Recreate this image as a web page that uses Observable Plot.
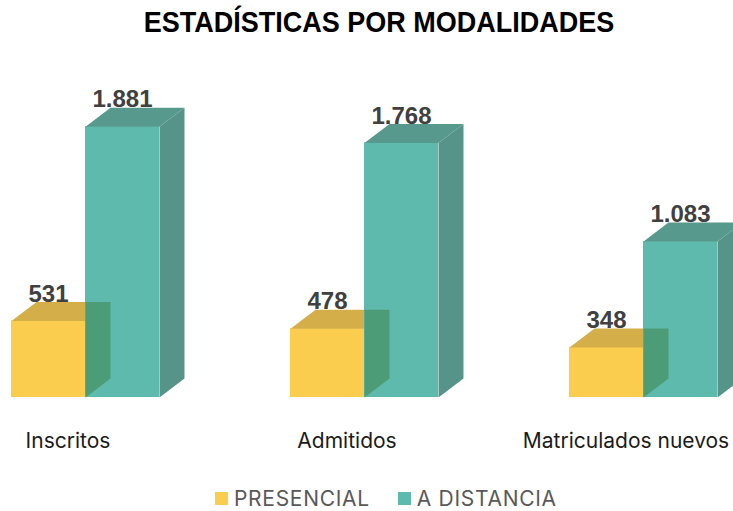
<!DOCTYPE html>
<html>
<head>
<meta charset="utf-8">
<script src="https://cdn.jsdelivr.net/npm/d3@7"></script>
<script src="https://cdn.jsdelivr.net/npm/@observablehq/plot@0.6"></script>
<style>
  html, body { margin: 0; padding: 0; background: #fff; overflow: hidden; width: 733px; height: 511px; }
  #title { position: absolute; top: 9px; left: 25px; width: 708px; text-align: center;
    font-family: "Liberation Sans Narrow", "Arial Narrow", "Liberation Sans", Arial, sans-serif;
    font-weight: bold; font-size: 27px; line-height: 27px; color: #000; transform: scaleY(1.08); }
  #chart { position: absolute; top: 50px; left: 0; width: 733px; height: 420px; overflow: hidden; }
  #legend { position: absolute; top: 488px; left: 215px; display: flex; align-items: center;
    font-family: Inter, "Liberation Sans", sans-serif; font-size: 21px; line-height: 21px; color: #595959; letter-spacing: 0.7px; }
  #legend .item { display: flex; align-items: center; margin-right: 28px; }
  #legend .sw { width: 13px; height: 13px; margin-right: 6px; }
  #chart text.cat { letter-spacing: 0.5px; }
</style>
</head>
<body>
<div id="title">ESTADÍSTICAS POR MODALIDADES</div>
<div id="chart"></div>
<div id="legend"></div>
<script>
const categories = ["Inscritos", "Admitidos", "Matriculados nuevos"];
const seriesNames = ["PRESENCIAL", "A DISTANCIA"];
const presencial = [531, 478, 348];
const distancia = [1881, 1768, 1083];

const colors = {
  PRESENCIAL: { front: "#FACD4F", top: "#D4AE49" },
  "A DISTANCIA": { front: "#5DBAAC", top: "#58998E", side: "#56948A" },
  overlap: "#4C9C77"
};

const fmt = d3.formatLocale({ decimal: ",", thousands: ".", grouping: [3], currency: ["", ""] }).format(",");

// geometry (in scale units)
const W = 0.2652;        // bar width in x units
const DX = 0.0896;       // depth in x units
const yMax = 2000, plotH = 288;
const DYV = yMax / plotH * 19; // depth in y value units

const bars = [];
categories.forEach((c, i) => {
  [presencial[i], distancia[i]].forEach((v, s) => {
    const x1 = s === 0 ? i - W : i;
    bars.push({ cat: c, i, series: seriesNames[s], s, v, x1, x2: x1 + W });
  });
});

function poly(b, pts, kind) {
  return pts.map(([x, y]) => ({ id: kind + b.cat + b.series, x, y }));
}
const topFace = b => poly(b, [[b.x1, b.v], [b.x2, b.v], [b.x2 + DX, b.v + DYV], [b.x1 + DX, b.v + DYV]], "top");
const sideFace = b => poly(b, [[b.x2, 0], [b.x2, b.v], [b.x2 + DX, b.v + DYV], [b.x2 + DX, DYV]], "side");
const overlapFace = b => poly(b, [[b.x2, 0], [b.x2, b.v + DYV], [b.x2 + DX, b.v + DYV], [b.x2 + DX, DYV]], "ov");

const yel = bars.filter(b => b.s === 0);
const tea = bars.filter(b => b.s === 1);

const polyMark = (data, fill) => Plot.line(data, { x: "x", y: "y", z: "id", fill, stroke: "none", curve: "linear-closed" });

const chart = Plot.plot({
  width: 733,
  height: 420,
  marginLeft: 0, marginRight: 0, marginTop: 59, marginBottom: 73,
  x: { domain: [-85 / 279, 648 / 279], axis: null },
  y: { domain: [0, yMax], axis: null },
  style: { overflow: "hidden", background: "transparent" },
  marks: [
    Plot.rect(yel, { x1: "x1", x2: "x2", y1: 0, y2: "v", fill: colors.PRESENCIAL.front }),
    polyMark(yel.flatMap(topFace), colors.PRESENCIAL.top),
    Plot.rect(tea, { x1: "x1", x2: "x2", y1: 0, y2: "v", fill: colors["A DISTANCIA"].front }),
    polyMark(tea.flatMap(topFace), colors["A DISTANCIA"].top),
    polyMark(tea.flatMap(sideFace), colors["A DISTANCIA"].side),
    polyMark(yel.flatMap(overlapFace), colors.overlap),
    Plot.text(bars, {
      x: b => (b.x1 + b.x2) / 2, y: "v", text: b => fmt(b.v), dy: -27,
      fontSize: 24, fontWeight: "bold", fill: "#404040",
      fontFamily: "'Liberation Sans', Arial, sans-serif"
    }),
    Plot.text(categories, {
      x: (d, i) => i, y: () => 0, text: d => d, dy: 44, dx: -17.5,
      fontSize: 21, fill: "#1b1b1b", fontFamily: "Inter, 'Liberation Sans', sans-serif",
      className: "cat"
    })
  ]
});
document.getElementById("chart").appendChild(chart);

const legend = document.getElementById("legend");
seriesNames.forEach(name => {
  const item = document.createElement("div");
  item.className = "item";
  const sw = document.createElement("div");
  sw.className = "sw";
  sw.style.background = colors[name].front;
  const t = document.createElement("span");
  t.textContent = name;
  item.appendChild(sw); item.appendChild(t);
  legend.appendChild(item);
});
</script>
</body>
</html>
